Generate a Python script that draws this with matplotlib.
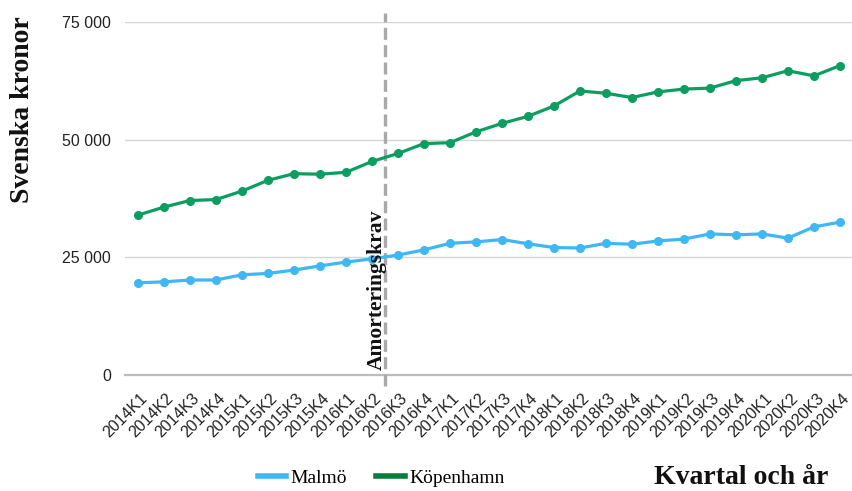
import matplotlib
matplotlib.use("Agg")
import matplotlib.pyplot as plt
import matplotlib.transforms as mtransforms
from matplotlib.lines import Line2D

# Quarterly labels 2014K1 .. 2020K4
quarters = [f"{y}K{q}" for y in range(2014, 2021) for q in range(1, 5)]

malmo = [19600, 19800, 20200, 20200, 21300, 21600, 22300, 23200, 24000, 24700,
         25500, 26600, 28000, 28300, 28800, 27900, 27100, 27000, 28000, 27800,
         28500, 28900, 30000, 29800, 30000, 29100, 31500, 32500]

kopenhamn = [34000, 35700, 37100, 37300, 39100, 41400, 42800, 42700, 43100, 45400,
             47100, 49200, 49400, 51700, 53500, 55000, 57200, 60400, 59900, 59000,
             60200, 60800, 61000, 62600, 63200, 64700, 63600, 65800]

yticks = [0, 25000, 50000, 75000]
ytick_labels = ["0", "25 000", "50 000", "75 000"]

# The amortisation requirement came in between 2016K2 and 2016K3
policy_pos = 9.5
policy_label = "Amorteringskrav"

blue = "#3db8f5"
green = "#0c9e60"
legend_green = "#0b7d3b"
serif = ["Liberation Serif", "DejaVu Serif"]
sans = ["Liberation Sans", "DejaVu Sans"]

fig = plt.figure(figsize=(8.53, 4.91), dpi=100)
ax = fig.add_axes([0.1465, 0.2363, 0.8535, 0.7183])

x = list(range(len(quarters)))
ax.plot(x, malmo, color=blue, lw=2.3, marker="o", ms=5.5, zorder=3)
ax.plot(x, kopenhamn, color=green, lw=2.3, marker="o", ms=5.5, zorder=3)

ax.set_xlim(-0.5, len(quarters) - 0.5)
ax.set_ylim(0, 75000)

# Horizontal grid only, with a slightly heavier baseline
for v in yticks[1:]:
    ax.axhline(v, color="#d6d6d6", lw=1.0, zorder=1)
ax.axhline(0, color="#bcbcbc", lw=1.6, zorder=1, clip_on=False)
for s in ax.spines.values():
    s.set_visible(False)

ax.set_yticks(yticks)
ax.set_yticklabels(ytick_labels, family=sans, fontsize=11.5, color="#222222")
ax.tick_params(axis="y", length=0, pad=10)

ax.set_xticks(x)
ax.set_xticklabels(quarters, family=sans, fontsize=11.5, color="#222222",
                   rotation=45, ha="right", va="top", rotation_mode="anchor")
ax.tick_params(axis="x", length=0, pad=11.5)
offset = mtransforms.ScaledTranslation(2 / 100, 0, fig.dpi_scale_trans)
for lbl in ax.get_xticklabels():
    lbl.set_transform(lbl.get_transform() + offset)

# Dashed marker for the policy change, running slightly past the plot area
trans = mtransforms.blended_transform_factory(ax.transData, ax.transAxes)
ax.plot([policy_pos, policy_pos], [-0.03, 1.025], transform=trans, color="#a9a9a9",
        lw=2.4, dashes=(3.6, 1.6), clip_on=False, zorder=2)
ax.annotate(policy_label, xy=(policy_pos, 0.013), xycoords=trans,
            xytext=(1.5, 0), textcoords="offset points", rotation=90,
            ha="right", va="bottom", family=serif, fontweight="bold",
            fontsize=15.5, color="#111111")

fig.text(0.026, 0.776, "Svenska kronor", rotation=90, ha="center", va="center",
         family=serif, fontweight="bold", fontsize=20, color="#111111")
fig.text(0.869, 0.027, "Kvartal och år", ha="center", va="center",
         family=serif, fontweight="bold", fontsize=20, color="#111111")

handles = [Line2D([], [], color=blue, lw=4),
           Line2D([], [], color=legend_green, lw=4)]
fig.legend(handles, ["Malmö", "Köpenhamn"], loc="center",
           bbox_to_anchor=(0.447, 0.027), ncol=2, frameon=False,
           handlelength=1.45, handletextpad=0.25, columnspacing=1.5,
           prop={"family": serif, "size": 14})

fig.savefig("out.png", dpi=100)
